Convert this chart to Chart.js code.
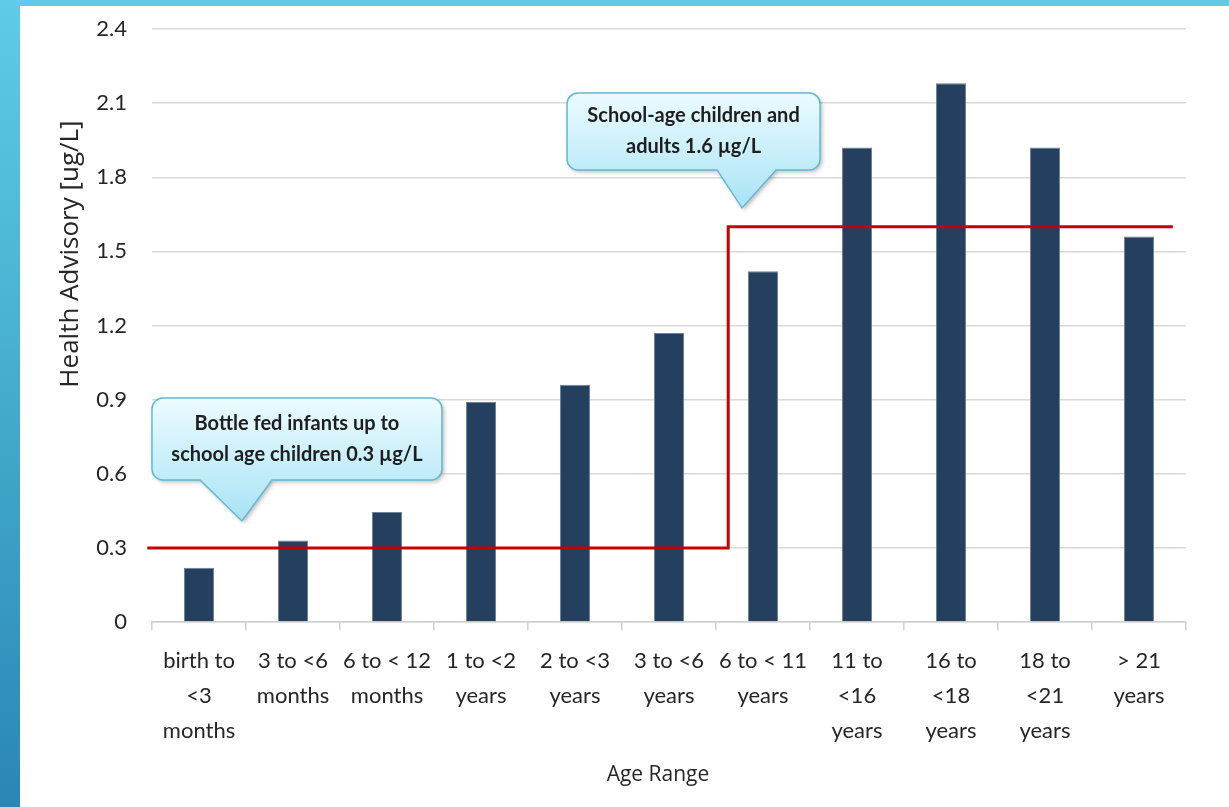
<!DOCTYPE html>
<html>
<head>
<meta charset="utf-8">
<title>Health Advisory by Age Range</title>
<script src="https://cdn.jsdelivr.net/npm/chart.js@4.4.1/dist/chart.umd.min.js"></script>
<style>
  html, body { margin: 0; padding: 0; background: #ffffff; width: 1229px; height: 807px; overflow: hidden; }
  #topband { position: absolute; left: 0; top: 0; width: 1229px; height: 6px; background: #5ecbe8; }
  #sideband { position: absolute; left: 0; top: 0; width: 20px; height: 807px;
    background: linear-gradient(to bottom, #5ecbe8 0%, #4ab2d2 40%, #2a86b5 100%); }
  #chart { position: absolute; left: 0; top: 0; }
</style>
</head>
<body>
<div id="topband"></div>
<div id="sideband"></div>
<canvas id="chart" width="1229" height="807"></canvas>
<script>
// Age groups along the x axis (multi-line labels)
const ageRanges = [
  ["birth to", "<3", "months"],
  ["3 to <6", "months"],
  ["6 to < 12", "months"],
  ["1 to <2", "years"],
  ["2 to <3", "years"],
  ["3 to <6", "years"],
  ["6 to < 11", "years"],
  ["11 to", "<16", "years"],
  ["16 to", "<18", "years"],
  ["18 to", "<21", "years"],
  ["> 21", "years"]
];

// Health advisory per age group [ug/L]
const healthAdvisory = [0.22, 0.33, 0.445, 0.89, 0.96, 1.17, 1.42, 1.92, 2.18, 1.92, 1.56];

// Value axis ticks
const yMin = 0;
const yMax = 2.4;
const yStep = 0.3;

// Advisory step line: low level for infants/young children, high level for school-age and adults
const advisoryLevels = [0.3, 1.6];
const stepX = [-0.55, 5.63, 5.63, 10.36];
const stepY = [advisoryLevels[0], advisoryLevels[0], advisoryLevels[1], advisoryLevels[1]];

// Callout texts
const calloutLow = ["Bottle fed infants up to", "school age children 0.3 \u00b5g/L"];
const calloutHigh = ["School-age children and", "adults 1.6 \u00b5g/L"];

const labelFont = "Lato, 'Open Sans', sans-serif";
const titleFont = "'Open Sans', Lato, sans-serif";

// Speech-bubble callouts anchored at the pointer tip (in data units)
const callouts = [
  { lines: calloutLow, tip: { x: 0.457, y: 0.409 },
    box: { l: -90, r: 200, t: -123, b: -41 }, base: { l: -42, r: 30 } },
  { lines: calloutHigh, tip: { x: 5.777, y: 1.676 },
    box: { l: -175, r: 78, t: -115, b: -38 }, base: { l: -25, r: 34 } }
];

function calloutPath(ctx, L, T, R, B, r, pl, pr, tx, ty) {
  ctx.beginPath();
  ctx.moveTo(L + r, T);
  ctx.lineTo(R - r, T);
  ctx.arcTo(R, T, R, T + r, r);
  ctx.lineTo(R, B - r);
  ctx.arcTo(R, B, R - r, B, r);
  ctx.lineTo(pr, B);
  ctx.lineTo(tx, ty);
  ctx.lineTo(pl, B);
  ctx.lineTo(L + r, B);
  ctx.arcTo(L, B, L, B - r, r);
  ctx.lineTo(L, T + r);
  ctx.arcTo(L, T, L + r, T, r);
  ctx.closePath();
}

const calloutPlugin = {
  id: 'callouts',
  afterDatasetsDraw(chart) {
    const ctx = chart.ctx;
    const xs = chart.scales.x2;
    const ys = chart.scales.y;
    callouts.forEach(c => {
      const tx = xs.getPixelForValue(c.tip.x);
      const ty = ys.getPixelForValue(c.tip.y);
      const L = tx + c.box.l, R = tx + c.box.r, T = ty + c.box.t, B = ty + c.box.b;
      ctx.save();
      const grad = ctx.createLinearGradient(0, T, 0, ty);
      grad.addColorStop(0, '#ecfbff');
      grad.addColorStop(1, '#a8e3f5');
      calloutPath(ctx, L, T, R, B, 11, tx + c.base.l, tx + c.base.r, tx, ty);
      ctx.shadowColor = 'rgba(0,0,0,0.28)';
      ctx.shadowBlur = 4;
      ctx.shadowOffsetX = 2;
      ctx.shadowOffsetY = 2;
      ctx.fillStyle = grad;
      ctx.fill();
      ctx.shadowColor = 'transparent';
      ctx.lineWidth = 1.5;
      ctx.strokeStyle = '#5fbad5';
      ctx.stroke();
      ctx.fillStyle = '#1e1e1e';
      ctx.font = "bold 20px " + labelFont;
      ctx.textAlign = 'center';
      ctx.textBaseline = 'middle';
      const cx = (L + R) / 2, cy = (T + B) / 2;
      const lh = 31;
      c.lines.forEach((s, i) => {
        ctx.fillText(s, cx, cy + (i - (c.lines.length - 1) / 2) * lh);
      });
      ctx.restore();
    });
  }
};

// Axis titles placed freely around the plot
const axisTitlePlugin = {
  id: 'axisTitles',
  afterDraw(chart) {
    const ctx = chart.ctx;
    ctx.save();
    ctx.fillStyle = '#262626';
    ctx.textAlign = 'center';
    ctx.textBaseline = 'middle';
    ctx.font = "21px " + titleFont;
    ctx.fillText('Age Range', 658, 775);
    ctx.translate(71, 254);
    ctx.rotate(-Math.PI / 2);
    ctx.font = "26px " + titleFont;
    ctx.fillText('Health Advisory [ug/L]', 0, 0);
    ctx.restore();
  }
};

new Chart(document.getElementById('chart'), {
  type: 'bar',
  data: {
    labels: ageRanges,
    datasets: [
      {
        type: 'line',
        label: 'Advisory level',
        data: stepX.map((x, i) => ({ x: x, y: stepY[i] })),
        xAxisID: 'x2',
        borderColor: '#c40000',
        borderWidth: 3,
        pointRadius: 0,
        tension: 0,
        fill: false,
        clip: false,
        order: 0
      },
      {
        type: 'bar',
        label: 'Health Advisory',
        data: healthAdvisory,
        xAxisID: 'x',
        backgroundColor: '#253f5f',
        borderColor: '#6f829c',
        borderWidth: 1,
        grouped: false,
        barPercentage: 0.32,
        categoryPercentage: 1,
        order: 1
      }
    ]
  },
  options: {
    responsive: false,
    animation: false,
    layout: { padding: { left: 0, right: 43, top: 29, bottom: 0 } },
    plugins: {
      legend: { display: false },
      tooltip: { enabled: false },
      title: { display: false }
    },
    scales: {
      x: {
        type: 'category',
        position: 'bottom',
        offset: true,
        afterFit(scale) {
          scale.height = 185;
          scale.paddingLeft = 0; scale.paddingRight = 0;
          scale.paddingTop = 0; scale.paddingBottom = 0;
        },
        grid: {
          offset: true,
          drawOnChartArea: false,
          drawTicks: true,
          tickLength: 8,
          color: '#d0d0d0',
          lineWidth: 1.5
        },
        border: { display: true, color: '#d0d0d0', width: 1.5 },
        ticks: {
          color: '#262626',
          padding: 13,
          maxRotation: 0,
          autoSkip: false,
          font: { family: labelFont, size: 22, lineHeight: '35px' }
        }
      },
      x2: {
        type: 'linear',
        display: false,
        offset: false,
        grid: { offset: false },
        min: -0.5,
        max: 10.5
      },
      y: {
        min: yMin,
        max: yMax,
        afterFit(scale) {
          scale.width = 152;
          scale.paddingLeft = 0; scale.paddingRight = 0;
          scale.paddingTop = 0; scale.paddingBottom = 0;
        },
        grid: { color: '#d9d9d9', lineWidth: 1.5, drawTicks: false },
        border: { display: false },
        ticks: {
          stepSize: yStep,
          padding: 25,
          color: '#262626',
          font: { family: labelFont, size: 22 },
          callback: v => (Math.abs(v) < 1e-9 ? '0' : Number(v).toFixed(1))
        }
      }
    }
  },
  plugins: [calloutPlugin, axisTitlePlugin]
});
</script>
</body>
</html>
